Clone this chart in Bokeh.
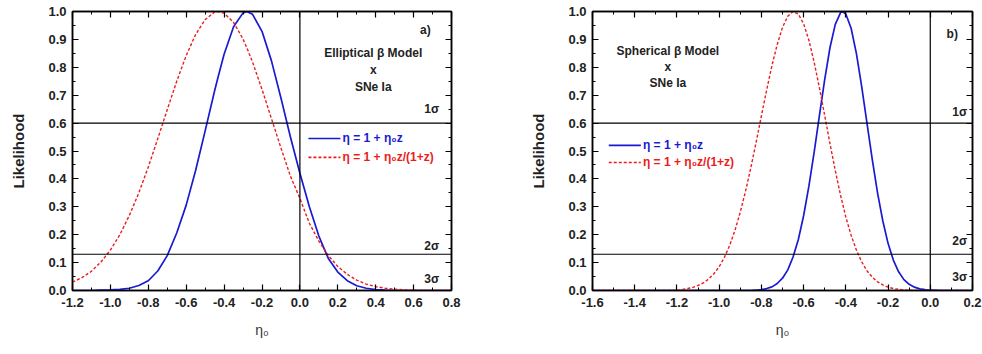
from bokeh.plotting import figure
from bokeh.layouts import row
from bokeh.models import Range1d, LinearAxis, FixedTicker, Span, Label, CustomJSTickFormatter
from bokeh.embed import file_html
from bokeh.resources import INLINE

# ---------------- data ----------------
# Panel a) Elliptical beta model x SNe Ia
a_eta = [-1.20, -1.15, -1.10, -1.05, -1.00, -0.95, -0.90, -0.85, -0.80, -0.75,
         -0.70, -0.65, -0.60, -0.55, -0.50, -0.45, -0.43, -0.40, -0.35, -0.30,
         -0.28, -0.25, -0.20, -0.15, -0.10, -0.05, 0.00, 0.05, 0.10, 0.15,
         0.20, 0.25, 0.30, 0.35, 0.40, 0.45, 0.50, 0.55, 0.60, 0.65, 0.70,
         0.75, 0.80]
a_linear = [0.000, 0.000, 0.000, 0.001, 0.002, 0.004, 0.008, 0.018, 0.035, 0.070,
            0.125, 0.206, 0.306, 0.431, 0.572, 0.716, 0.770, 0.847, 0.945, 0.995,
            1.000, 0.990, 0.929, 0.823, 0.690, 0.550, 0.420, 0.300, 0.195, 0.115,
            0.066, 0.035, 0.017, 0.008, 0.003, 0.001, 0.000, 0.000, 0.000, 0.000,
            0.000, 0.000, 0.000]
a_ratio = [0.030, 0.046, 0.069, 0.102, 0.145, 0.200, 0.269, 0.350, 0.443, 0.544,
           0.648, 0.750, 0.842, 0.918, 0.971, 0.998, 1.000, 0.994, 0.961, 0.901,
           0.870, 0.819, 0.721, 0.616, 0.511, 0.410, 0.330, 0.241, 0.177, 0.125,
           0.086, 0.058, 0.037, 0.023, 0.014, 0.008, 0.005, 0.002, 0.001, 0.000,
           0.000, 0.000, 0.000]

# Panel b) Spherical beta model x SNe Ia
b_eta = [-1.600, -1.500, -1.400, -1.300, -1.200, -1.150, -1.125, -1.100, -1.075, -1.050,
         -1.025, -1.000, -0.975, -0.950, -0.925, -0.900, -0.875, -0.850, -0.825, -0.800,
         -0.775, -0.750, -0.725, -0.700, -0.675, -0.650, -0.625, -0.600, -0.575, -0.550,
         -0.525, -0.500, -0.475, -0.450, -0.425, -0.415, -0.400, -0.375, -0.350, -0.325,
         -0.300, -0.275, -0.250, -0.225, -0.200, -0.175, -0.150, -0.125, -0.100, -0.075,
         -0.050, -0.025, 0.000, 0.050, 0.100, 0.150, 0.200]
b_linear = [0.000, 0.000, 0.000, 0.000, 0.000, 0.000, 0.000, 0.000, 0.000, 0.000,
            0.000, 0.000, 0.000, 0.000, 0.000, 0.000, 0.000, 0.000, 0.001, 0.003,
            0.007, 0.013, 0.025, 0.044, 0.074, 0.120, 0.183, 0.268, 0.374, 0.496,
            0.628, 0.757, 0.871, 0.954, 0.996, 1.000, 0.991, 0.940, 0.850, 0.732,
            0.601, 0.471, 0.351, 0.250, 0.169, 0.109, 0.067, 0.039, 0.022, 0.012,
            0.006, 0.003, 0.001, 0.000, 0.000, 0.000, 0.000]
b_ratio = [0.000, 0.000, 0.000, 0.000, 0.000, 0.007, 0.011, 0.018, 0.027, 0.041,
           0.060, 0.085, 0.119, 0.162, 0.216, 0.281, 0.356, 0.440, 0.531, 0.626,
           0.719, 0.806, 0.882, 0.943, 0.983, 1.000, 0.991, 0.956, 0.897, 0.818,
           0.726, 0.627, 0.526, 0.430, 0.341, 0.310, 0.263, 0.198, 0.145, 0.103,
           0.071, 0.048, 0.031, 0.020, 0.012, 0.007, 0.004, 0.002, 0.001, 0.000,
           0.000, 0.000, 0.000, 0.000, 0.000, 0.000, 0.000]

# axes / ticks
a_xticks = [-1.2, -1.0, -0.8, -0.6, -0.4, -0.2, 0.0, 0.2, 0.4, 0.6, 0.8]
b_xticks = [-1.6, -1.4, -1.2, -1.0, -0.8, -0.6, -0.4, -0.2, 0.0, 0.2]
yticks = [0.0, 0.1, 0.2, 0.3, 0.4, 0.5, 0.6, 0.7, 0.8, 0.9, 1.0]
sigma_levels = [0.6, 0.13]
sigma_labels = ["1\u03c3", "2\u03c3", "3\u03c3"]
legend_labels = ["\u03b7 = 1 + \u03b7\u2080z", "\u03b7 = 1 + \u03b7\u2080z/(1+z)"]
a_title = ["Elliptical \u03b2 Model", "x", "SNe Ia"]
b_title = ["Spherical \u03b2 Model", "x", "SNe Ia"]

FONT = "Liberation Sans"
BLUE = "#1a1ad2"
RED = "#ec1c1c"


def minor_from(ticks):
    out = []
    for i in range(len(ticks) - 1):
        out.append(ticks[i])
        out.append(round((ticks[i] + ticks[i + 1]) / 2, 3))
    out.append(ticks[-1])
    return out


def style_axis(ax, show_labels):
    ax.axis_line_color = "black"
    ax.axis_line_width = 1.5
    ax.major_tick_in = 6
    ax.major_tick_out = 0
    ax.minor_tick_in = 3
    ax.minor_tick_out = 0
    ax.major_tick_line_color = "black"
    ax.minor_tick_line_color = "black"
    ax.major_tick_line_width = 1.2
    ax.minor_tick_line_width = 1.0
    if show_labels:
        ax.major_label_text_font = FONT
        ax.major_label_text_font_style = "bold"
        ax.major_label_text_font_size = "13px"
        ax.major_label_text_color = "#222222"
    else:
        ax.formatter = CustomJSTickFormatter(code="return '';")
        ax.major_label_standoff = 0


def make_panel(eta, lin, rat, xticks, tag, title, geo, border_left, border_right):
    x0, x1 = xticks[0], xticks[-1]
    p = figure(width=491, height=354, output_backend="svg", toolbar_location=None,
               x_range=Range1d(x0, x1), y_range=Range1d(0, 1),
               min_border_left=border_left, min_border_right=border_right,
               min_border_top=11, min_border_bottom=64,
               x_axis_location=None, y_axis_location=None)
    p.grid.visible = False
    p.outline_line_color = "black"
    p.outline_line_width = 1.5
    p.background_fill_color = "white"
    p.border_fill_color = "white"

    xt = FixedTicker(ticks=xticks, minor_ticks=minor_from(xticks))
    yt = FixedTicker(ticks=yticks, minor_ticks=minor_from(yticks))
    xlabels = {t: f"{t:.1f}" for t in xticks}
    ylabels = {t: f"{t:.1f}" for t in yticks}

    xb = LinearAxis(ticker=xt, axis_label="\u03b7\u2080")
    xb.major_label_overrides = xlabels
    style_axis(xb, True)
    xb.major_label_standoff = 7
    xb.axis_label_standoff = 12
    xb.axis_label_text_font = FONT
    xb.axis_label_text_font_style = "normal"
    xb.axis_label_text_font_size = "14px"
    xb.axis_label_text_color = "#333333"
    p.add_layout(xb, "below")

    yl = LinearAxis(ticker=yt, axis_label="Likelihood")
    yl.major_label_overrides = ylabels
    style_axis(yl, True)
    yl.major_label_standoff = 6
    yl.axis_label_standoff = 18
    yl.axis_label_text_font = FONT
    yl.axis_label_text_font_style = "bold"
    yl.axis_label_text_font_size = "15px"
    yl.axis_label_text_color = "#222222"
    p.add_layout(yl, "left")

    xa = LinearAxis(ticker=xt)
    style_axis(xa, False)
    p.add_layout(xa, "above")
    yr = LinearAxis(ticker=yt)
    style_axis(yr, False)
    p.add_layout(yr, "right")

    # sigma levels and zero line
    for lev in sigma_levels:
        p.add_layout(Span(location=lev, dimension="width", line_color="black", line_width=1.2))
    p.add_layout(Span(location=0.0, dimension="height", line_color="black", line_width=1.2))

    # curves
    p.line(eta, lin, line_color=BLUE, line_width=1.7, line_join="round")
    p.line(eta, rat, line_color=RED, line_width=1.4, line_dash="3 2", line_join="round")

    txt = dict(text_font=FONT, text_font_style="bold", text_font_size="12px",
               text_color="#222222")
    # tag
    p.add_layout(Label(x=geo["tag"][0], y=geo["tag"][1], text=tag, text_align="right",
                       text_baseline="middle", **txt))
    # title block
    for line, yy in zip(title, geo["title_y"]):
        p.add_layout(Label(x=geo["title_x"], y=yy, text=line, text_align="center",
                           text_baseline="middle", **txt))
    # sigma labels
    for lab, yy in zip(sigma_labels, geo["sig_y"]):
        p.add_layout(Label(x=geo["sig_x"], y=yy, text=lab, text_align="right",
                           text_baseline="middle", **txt))
    # legend
    lx0, lx1, ltx = geo["leg_x"]
    for lab, yy, col, dash in zip(legend_labels, geo["leg_y"], [BLUE, RED], ["solid", "3 2"]):
        p.segment(x0=[lx0], y0=[yy], x1=[lx1], y1=[yy], line_color=col,
                  line_width=1.6, line_dash=dash)
        p.add_layout(Label(x=ltx, y=yy, text=lab, text_align="left", text_baseline="middle",
                           text_font=FONT, text_font_style="bold", text_font_size="12px",
                           text_color=col))
    return p


geo_a = dict(tag=(0.69, 0.932), title_x=0.387, title_y=[0.853, 0.792, 0.731],
             sig_x=0.735, sig_y=[0.651, 0.161, 0.042],
             leg_x=(0.045, 0.214, 0.225), leg_y=[0.545, 0.477])
geo_b = dict(tag=(0.131, 0.921), title_x=-1.243, title_y=[0.86, 0.80, 0.742],
             sig_x=0.175, sig_y=[0.639, 0.179, 0.048],
             leg_x=(-1.523, -1.371, -1.361), leg_y=[0.52, 0.459])

pa = make_panel(a_eta, a_linear, a_ratio, a_xticks, "a)", a_title, geo_a, 72, 40)
pb = make_panel(b_eta, b_linear, b_ratio, b_xticks, "b)", b_title, geo_b, 101, 10)

layout = row(pa, pb)
open("out.html", "w").write(file_html(layout, INLINE))
